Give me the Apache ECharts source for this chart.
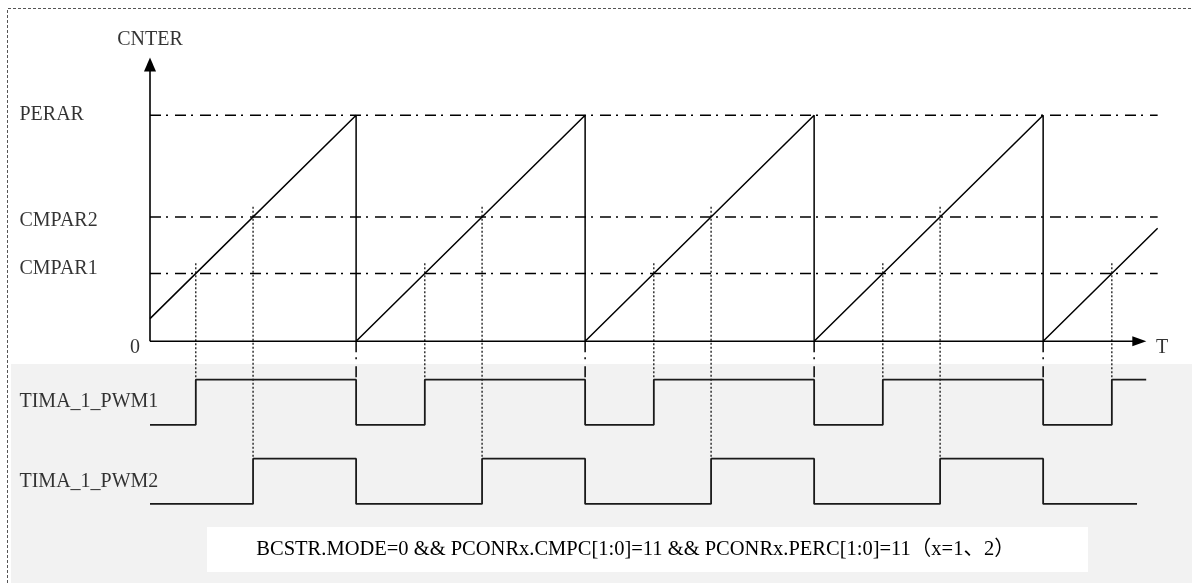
<!DOCTYPE html>
<html><head><meta charset="utf-8">
<script src="https://cdn.jsdelivr.net/npm/echarts@6/dist/echarts.min.js"></script>
<style>html,body{margin:0;padding:0;background:#fff}#c{width:1192px;height:583px}</style>
</head><body><div id="c"></div>
<script>
// ---------- data (counter units on y, timer ticks on x) ----------
const levelNames = ['PERAR', 'CMPAR2', 'CMPAR1'];
const levelValues = [100, 55, 30];
const counterTimes = [0, 90, 90, 190, 190, 290, 290, 390, 390, 440];
const counterValues = [10, 100, 0, 100, 0, 100, 0, 100, 0, 50];
const periodEnds = [90, 190, 290, 390];
const cmp1Times = [20, 120, 220, 320, 420];
const cmp2Times = [45, 145, 245, 345];
const pwm1Times = [0, 20, 90, 120, 190, 220, 290, 320, 390, 420, 435];
const pwm1States = [0, 1, 0, 1, 0, 1, 0, 1, 0, 1, 1];
const pwm2Times = [0, 45, 90, 145, 190, 245, 290, 345, 390, 431];
const pwm2States = [0, 1, 0, 1, 0, 1, 0, 1, 0, 0];
const signalNames = ['TIMA_1_PWM1', 'TIMA_1_PWM2'];
const yAxisName = 'CNTER';
const xAxisName = 'T';
const zeroLabel = '0';
const caption = 'BCSTR.MODE=0 && PCONRx.CMPC[1:0]=11 && PCONRx.PERC[1:0]=11（x=1、2）';
const guideEnd = 440;

// ---------- layout (not data) ----------
const lanes = [{ low: -37, high: -17 }, { low: -72, high: -52 }];
const xAxisEnd = 432, yAxisEnd = 122.5;
const labelX = -57;
const guideRise = 4.5;
const FONT = '"Liberation Serif", "Times New Roman", "Noto Sans CJK SC", serif';

const series = [];
function seg(points, style, extra) {
  series.push(Object.assign({
    type: 'line', data: points, symbol: 'none', silent: true, animation: false,
    lineStyle: Object.assign({ color: '#000', width: 1.4 }, style)
  }, extra || {}));
}
const dashDot = [11, 5, 2, 7];

// horizontal reference levels
levelValues.forEach(v => seg([[0, v], [guideEnd, v]], { type: dashDot, width: 1.5, color: '#000' }));
// period boundary dash-dot down to PWM1
periodEnds.forEach(t => seg([[t, 0], [t, lanes[0].high]], { type: dashDot, width: 1.5, color: '#000' }));
// compare dotted guides
cmp1Times.forEach(t => seg([[t, levelValues[2] + guideRise], [t, lanes[0].high]], { type: [2, 2], width: 1.2, color: '#000' }));
cmp2Times.forEach(t => seg([[t, levelValues[1] + guideRise], [t, lanes[1].high]], { type: [2, 2], width: 1.2, color: '#000' }));
// counter sawtooth
seg(counterTimes.map((t, i) => [t, counterValues[i]]), { width: 1.5 }, { z: 5 });
// PWM waveforms
seg(pwm1Times.map((t, i) => [t, lanes[0].low + pwm1States[i] * (lanes[0].high - lanes[0].low)]), { width: 1.8, color: '#1a1a1a' }, { step: 'end', z: 5 });
seg(pwm2Times.map((t, i) => [t, lanes[1].low + pwm2States[i] * (lanes[1].high - lanes[1].low)]), { width: 1.8, color: '#1a1a1a' }, { step: 'end', z: 5 });
// axes with arrows
seg([[0, 0], { value: [xAxisEnd, 0], symbol: 'path://M0,0L14,5L0,10Z', symbolSize: [14, 10] }],
  { width: 1.6 }, { symbol: 'none', showSymbol: true, itemStyle: { color: '#000' }, z: 6 });
seg([[0, 0], { value: [0, yAxisEnd], symbol: 'path://M6,0L12,14L0,14Z', symbolSize: [12, 14] }],
  { width: 1.6 }, { symbol: 'none', showSymbol: true, itemStyle: { color: '#000' }, z: 6 });

// text labels
const labelOffsets = { 'CMPAR2': [0, 4], 'CMPAR1': [0, -5] };
const textItems = [];
levelNames.forEach((n, i) => textItems.push({ name: n, value: [labelX, levelValues[i]], label: { position: 'right', distance: 0, offset: labelOffsets[n] || [0, 0] } }));
signalNames.forEach((n, i) => textItems.push({ name: n, value: [labelX, (lanes[i].low + lanes[i].high) / 2], label: { position: 'right', distance: 0 } }));
textItems.push({ name: yAxisName, value: [0, 133.2], label: { position: 'inside' } });
textItems.push({ name: xAxisName, value: [441.9, -2.7], label: { position: 'inside' } });
textItems.push({ name: zeroLabel, value: [-6.5, -3.1], label: { position: 'inside' } });
series.push({
  type: 'scatter', data: textItems, symbolSize: 0, silent: true, animation: false, z: 10,
  label: { show: true, formatter: '{b}', color: '#000', fontFamily: FONT, fontSize: 20 }
});

const chart = echarts.init(document.getElementById('c'), null, { renderer: 'canvas' });
chart.setOption({
  backgroundColor: '#fff',
  animation: false,
  grid: { left: 0, right: 0, top: 0, bottom: 0, containLabel: false },
  xAxis: { type: 'value', min: -65.5, max: 455, show: false },
  yAxis: { type: 'value', min: -107, max: 151, show: false },
  graphic: [
    { type: 'rect', silent: true, z: -10, shape: { x: 11, y: 364, width: 1181, height: 219 }, style: { fill: '#f2f2f2' } },
    { type: 'rect', silent: true, z: -9, shape: { x: 207, y: 527, width: 881, height: 45 }, style: { fill: '#ffffff' } },
    { type: 'text', silent: true, z: 20, x: 635.5, y: 550, style: { text: caption, fill: '#000', font: '20.5px ' + FONT, textAlign: 'center', textVerticalAlign: 'middle' } },
    { type: 'polyline', silent: true, z: 20, shape: { points: [[7.5, 583], [7.5, 8.5], [1192, 8.5]] }, style: { stroke: '#555', lineWidth: 1, lineDash: [3, 2], fill: null } }
  ],
  series: series
});
</script></body></html>
